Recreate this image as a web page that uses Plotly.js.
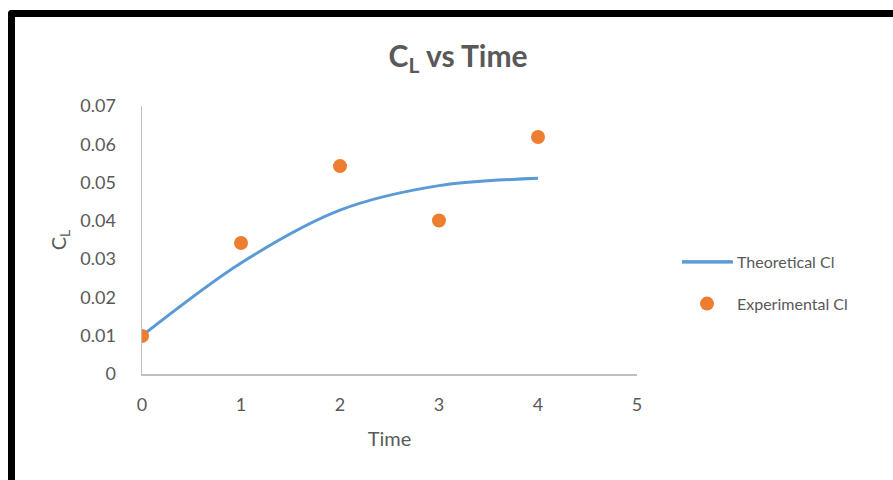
<!DOCTYPE html>
<html>
<head>
<meta charset="utf-8">
<script src="https://cdn.plot.ly/plotly-3.0.1.min.js"></script>
<style>
html,body{margin:0;padding:0;background:#fff;overflow:hidden;}
#wrap{position:relative;width:893px;height:480px;}
#chart{position:absolute;left:0;top:0;width:893px;height:480px;}
#frame{position:absolute;left:8px;top:10px;width:1000px;height:1000px;border-left:7px solid #000;border-top:7px solid #000;border-top-left-radius:4px;pointer-events:none;}
</style>
</head>
<body>
<div id="wrap"><div id="chart"></div><div id="frame"></div></div>
<script>
var theoTime = [0, 1, 2, 3, 4];
var theoCl = [0.01, 0.029, 0.0428, 0.0492, 0.0511];
var expTime = [0, 1, 2, 3, 4];
var expCl = [0.0099, 0.0342, 0.0543, 0.0401, 0.0619];
var xTicks = [0, 1, 2, 3, 4, 5];
var yTicks = [0, 0.01, 0.02, 0.03, 0.04, 0.05, 0.06, 0.07];
var yTickText = ['0', '0.01', '0.02', '0.03', '0.04', '0.05', '0.06', '0.07'];

var font = 'Lato, "Open Sans", sans-serif';
var grey = '#595959';
var blue = '#5B9BD5';

var traces = [
  {x: theoTime, y: theoCl, type: 'scatter', mode: 'lines', name: 'Theoretical Cl',
   line: {color: blue, width: 3, shape: 'spline', smoothing: 0.9}, legendgroup: 'a'},
  {x: expTime, y: expCl, type: 'scatter', mode: 'markers', name: 'Experimental Cl',
   marker: {color: '#ED7D31', size: 14}, legendgroup: 'b'}
];

// plot area: x 142..637, y 106..374
function px2paperX(p) { return (p - 142) / 495; }
function px2paperY(p) { return (374 - p) / 268; }

var layout = {
  width: 893, height: 480,
  margin: {l: 142, r: 256, t: 106, b: 106, pad: 0},
  paper_bgcolor: '#fff', plot_bgcolor: '#fff',
  font: {family: font, color: grey, size: 16},
  title: {text: 'C<sub>L</sub> vs Time', font: {family: font, size: 30, color: grey, weight: 'bold'},
          x: 0.513, xanchor: 'center', y: 0.882, yanchor: 'middle'},
  xaxis: {range: [0, 5], tickvals: xTicks, showgrid: false, zeroline: false,
          showline: true, linecolor: '#BFBFBF', linewidth: 1.5, ticks: '', ticklabelstandoff: 14,
          tickfont: {size: 18, color: grey},
          title: {text: 'Time', font: {size: 20, color: grey}, standoff: 18}, fixedrange: true},
  yaxis: {range: [0, 0.07], tickvals: yTicks, ticktext: yTickText, showgrid: false, zeroline: false,
          showline: true, linecolor: '#BFBFBF', linewidth: 1.5, ticks: '', ticklabelstandoff: 21,
          tickfont: {size: 18, color: grey},
          title: {text: 'C<sub>L</sub>', font: {size: 20, color: grey}, standoff: 8}, fixedrange: true},
  showlegend: true,
  legend: {x: px2paperX(677), xanchor: 'left', y: 0.34, yanchor: 'middle', font: {size: 16, color: grey},
           tracegroupgap: 18, itemwidth: 50, bgcolor: 'rgba(0,0,0,0)', borderwidth: 0},
  shapes: [
    {type: 'line', xref: 'paper', yref: 'paper', x0: px2paperX(682), x1: px2paperX(733),
     y0: px2paperY(262), y1: px2paperY(262), line: {color: blue, width: 3}}
  ]
};

Plotly.newPlot('chart', traces, layout, {displayModeBar: false, staticPlot: true});
</script>
</body>
</html>
